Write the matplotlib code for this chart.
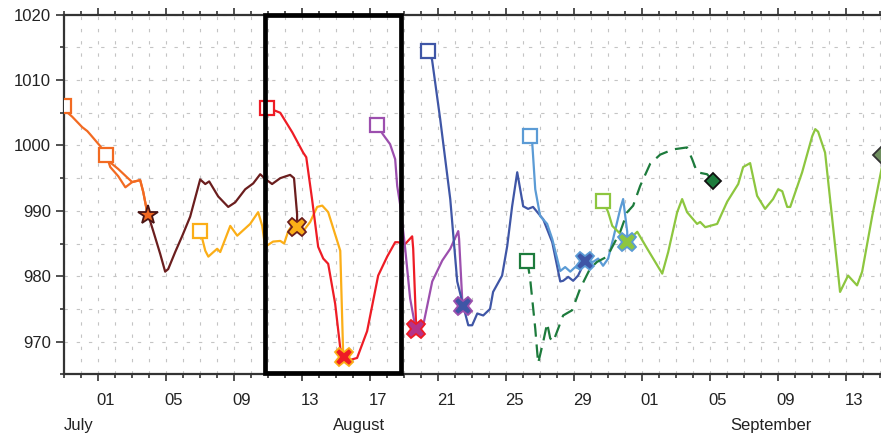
import matplotlib.pyplot as plt
from matplotlib.patches import Rectangle
from matplotlib.transforms import blended_transform_factory

plt.rcParams['font.family'] = ['Liberation Sans', 'DejaVu Sans']

# days counted from the first labelled tick ("01" July), pressure in hPa
orange_a_day = [-2.0, -1.84, -1.49, -0.9, -0.6, -0.43, 0.16, 0.51, 0.75, 1.22, 1.75, 2.04, 2.51, 2.69, 2.92, 2.98]
orange_a_hpa = [1006.0, 1005.2, 1004.4, 1002.8, 1002.2, 1001.7, 999.9, 998.6, 997.4, 996.4, 995.1, 994.4, 994.7, 992.9, 989.8, 989.4]

orange_b_day = [0.51, 0.75, 1.22, 1.64, 2.04, 2.51, 2.69, 2.92, 2.98]
orange_b_hpa = [998.6, 996.7, 995.3, 993.6, 994.4, 994.7, 992.9, 989.8, 989.4]

brown_day = [2.98, 3.28, 3.69, 3.98, 4.16, 4.57, 4.99, 5.45, 6.04, 6.34, 6.57, 7.1, 7.69, 8.1, 8.69,
             9.16, 9.57, 9.86, 10.27, 10.75, 11.33, 11.56, 11.74, 11.74]
brown_hpa = [989.4, 986.9, 983.4, 980.7, 981.1, 983.7, 986.2, 989.1, 994.8, 994.1, 994.5, 992.2, 990.6, 991.3, 993.3,
             994.2, 995.6, 994.9, 994.1, 995.0, 995.5, 995.0, 989.5, 987.5]

yellow_day = [6.05, 6.34, 6.52, 6.82, 7.04, 7.22, 7.81, 8.22, 8.98, 9.45, 9.69, 9.86, 10.33, 10.75, 10.98,
              11.22, 11.51, 11.74, 12.1, 12.51, 12.92, 13.22, 13.57, 14.28, 14.45, 14.51]
yellow_hpa = [986.9, 983.9, 983.0, 983.7, 984.2, 983.7, 987.7, 986.2, 988.0, 989.8, 987.7, 984.5, 985.3, 985.4, 985.0,
              986.9, 988.0, 987.5, 986.9, 988.3, 990.6, 990.8, 989.8, 983.9, 968.2, 967.6]

red_day = [9.98, 10.75, 11.46, 12.1, 12.28, 12.62, 12.98, 13.28, 13.57, 13.98, 14.28, 14.51, 14.86, 15.27,
           15.86, 16.51, 17.04, 17.51, 17.68, 18.09, 18.51, 18.57, 18.75]
red_hpa = [1005.8, 1005.0, 1002.0, 998.9, 998.2, 991.8, 984.5, 982.7, 981.9, 975.8, 969.0, 967.6, 967.2, 967.5,
           971.6, 980.1, 983.0, 985.2, 985.2, 984.9, 986.1, 984.2, 972.0]

purple_day = [16.44, 16.79, 17.21, 17.51, 17.63, 17.8, 18.1, 18.39, 18.69, 18.75, 19.16, 19.69, 20.28, 20.75,
              21.22, 21.27, 21.45, 21.51]
purple_hpa = [1003.1, 1001.7, 1000.2, 997.9, 993.8, 991.0, 984.2, 976.6, 972.3, 972.0, 972.5, 979.2, 982.4, 984.2,
              986.9, 985.7, 976.6, 975.5]

blue_day = [19.45, 19.68, 20.16, 20.75, 21.16, 21.51, 21.81, 22.04, 22.34, 22.69, 23.09, 23.27, 23.8, 24.1,
            24.39, 24.69, 25.04, 25.33, 25.62, 26.22, 26.75, 27.22, 27.39, 27.69, 27.98, 28.27, 28.69]
blue_hpa = [1014.5, 1013.1, 1004.0, 991.8, 979.2, 975.5, 972.5, 972.5, 974.3, 974.0, 975.0, 977.6, 980.1, 984.6,
            990.7, 995.9, 990.7, 990.3, 990.6, 988.7, 985.2, 979.2, 979.3, 979.9, 979.3, 980.1, 982.4]

lblue_day = [25.45, 25.57, 25.75, 26.04, 26.45, 26.75, 27.22, 27.51, 27.81, 28.1, 28.39, 28.69, 29.16, 29.45,
             29.74, 30.04, 30.33, 30.75, 30.92, 31.16, 31.16]
lblue_hpa = [1001.4, 1000.5, 993.3, 989.2, 988.0, 985.7, 980.8, 981.4, 980.7, 981.4, 981.1, 982.4, 982.2, 982.7,
             981.6, 982.7, 985.7, 990.3, 991.8, 986.8, 985.3]

dgreen_day = [25.28, 25.45, 25.75, 25.92, 26.22, 26.45, 26.63, 26.81, 27.1, 27.39, 27.92, 28.39, 28.98, 29.39,
              29.98, 30.75, 31.16, 31.51, 31.92, 32.51, 33.1, 33.86, 34.68, 34.98, 35.27, 35.86, 36.21]
dgreen_hpa = [982.4, 979.6, 972.0, 966.7, 970.0, 972.8, 970.5, 970.0, 972.0, 974.0, 974.8, 978.1, 981.2, 982.2,
              983.0, 986.8, 989.8, 990.8, 993.8, 997.2, 998.6, 999.4, 999.7, 997.9, 995.9, 995.6, 994.5]

lgreen_day = [29.74, 30.04, 30.28, 30.75, 31.16, 31.75, 32.34, 33.22, 33.57, 34.1, 34.39, 34.68, 35.27, 35.45,
              35.75, 36.45, 37.04, 37.69, 37.98, 38.39, 38.8, 39.27, 39.74, 40.04, 40.28, 40.57, 40.75, 41.45,
              42.04, 42.22, 42.39, 42.8, 43.68, 44.15, 44.68, 44.98, 45.57, 46.15]
lgreen_hpa = [991.5, 989.8, 987.7, 986.5, 985.3, 986.8, 984.2, 980.4, 983.7, 989.8, 991.8, 989.8, 988.0, 988.3,
              987.5, 988.0, 991.4, 994.1, 996.7, 997.3, 992.3, 990.3, 991.8, 993.3, 993.0, 990.6, 990.6, 995.9,
              1001.4, 1002.5, 1002.1, 998.9, 977.6, 980.1, 978.6, 980.7, 989.2, 996.8]

# marked events (end of a track)
event_day = [2.98, 11.74, 14.51, 18.75, 21.51, 28.69, 31.16, 36.21, 46.1]
event_hpa = [989.4, 987.5, 967.6, 972.0, 975.5, 982.4, 985.3, 994.5, 998.6]

tick_day = [0, 4, 8, 12, 16, 20, 24, 28, 32, 36, 40, 44]
tick_lab = ['01', '05', '09', '13', '17', '21', '25', '29', '01', '05', '09', '13']
month_lab = ['July', 'August', 'September']
month_day = [-2.0, 15.4, 39.6]

# line styles
tracks = [
    (orange_a_day, orange_a_hpa, '#F26A21', '-', True),
    (orange_b_day, orange_b_hpa, '#F26A21', '-', True),
    (brown_day, brown_hpa, '#6B1E1E', '-', False),
    (yellow_day, yellow_hpa, '#FBAE17', '-', True),
    (red_day, red_hpa, '#EE1C25', '-', True),
    (purple_day, purple_hpa, '#9C4FAE', '-', True),
    (blue_day, blue_hpa, '#3F56A6', '-', True),
    (lblue_day, lblue_hpa, '#5B9BD5', '-', True),
    (dgreen_day, dgreen_hpa, '#1D7B3C', '--', True),
    (lgreen_day, lgreen_hpa, '#8DC63F', '-', True),
]
event_style = [
    ('*', '#F26A21', '#4a1414', 15),
    ('X', '#FBAE17', '#6B1E1E', 13),
    ('X', '#EE1C25', '#FBAE17', 13),
    ('X', '#B5338A', '#EE1C25', 13),
    ('X', '#3F56A6', '#9C4FAE', 13),
    ('X', '#3F56A6', '#5B9BD5', 13),
    ('X', '#8DC63F', '#5B9BD5', 13),
    ('D', '#1D7B3C', '#111111', 8),
    ('D', '#6f8f5f', '#333333', 8),
]

fig = plt.figure(figsize=(8.81, 4.37), dpi=100)
ax = fig.add_axes([63.5 / 881, 62.7 / 437, 817.5 / 881, 359.6 / 437])

for d, p, c, ls, sq in tracks:
    line, = ax.plot(d, p, color=c, lw=1.6, ls=ls, zorder=3)
    if ls == '--':
        line.set_dashes((6, 3.5))
    if sq:
        ax.plot(d[0], p[0], marker='s', ms=10, mfc='white', mec=c, mew=1.6, ls='none', zorder=4)

for d, p, (m, fc, ec, s) in zip(event_day, event_hpa, event_style):
    ax.plot(d, p, marker=m, ms=s, mfc=fc, mec=ec, mew=1.3, ls='none', zorder=5)

ax.set_xlim(-2, -2 + 817.5 / 17.0)
ax.set_ylim(965.3, 1020)

ax.set_xticks(tick_day)
ax.set_xticks(range(-2, 47), minor=True)
ax.set_yticks(range(970, 1021, 10))
ax.set_yticks(range(965, 1021, 5), minor=True)
ax.grid(which='both', color='#c4c4c4', lw=0.8, ls=(0, (3, 8)))
ax.set_axisbelow(True)

ax.tick_params(axis='x', which='both', direction='out', top=True, labelbottom=False, width=1.2, color='#333333')
ax.tick_params(axis='x', which='major', length=5)
ax.tick_params(axis='x', which='minor', length=3)
ax.tick_params(axis='y', which='major', direction='out', length=6, width=1.2, pad=3,
               labelsize=12, labelcolor='#222222', color='#333333')
ax.tick_params(axis='y', which='minor', direction='out', length=3, width=1.2, color='#333333')

for s in ['left', 'top', 'bottom']:
    ax.spines[s].set_linewidth(1.6)
    ax.spines[s].set_color('#333333')
ax.spines['right'].set_visible(False)

trans = blended_transform_factory(ax.transData, ax.transAxes)
for d, t in zip(tick_day, tick_lab):
    ax.text(d + 0.5, -0.0715, t, transform=trans, ha='center', va='center', fontsize=12, color='#222222')
for i, (d, t) in enumerate(zip(month_day, month_lab)):
    ax.text(d, -0.155, t, transform=trans, ha='left' if i == 0 else 'center', va='baseline',
            fontsize=12, color='#222222')

# highlighted period
ax.add_patch(Rectangle((9.84, 965.2), 8.0, 54.7, fill=False, ec='black', lw=3.4, clip_on=False, zorder=6))

fig.savefig('out.png', dpi=100)
